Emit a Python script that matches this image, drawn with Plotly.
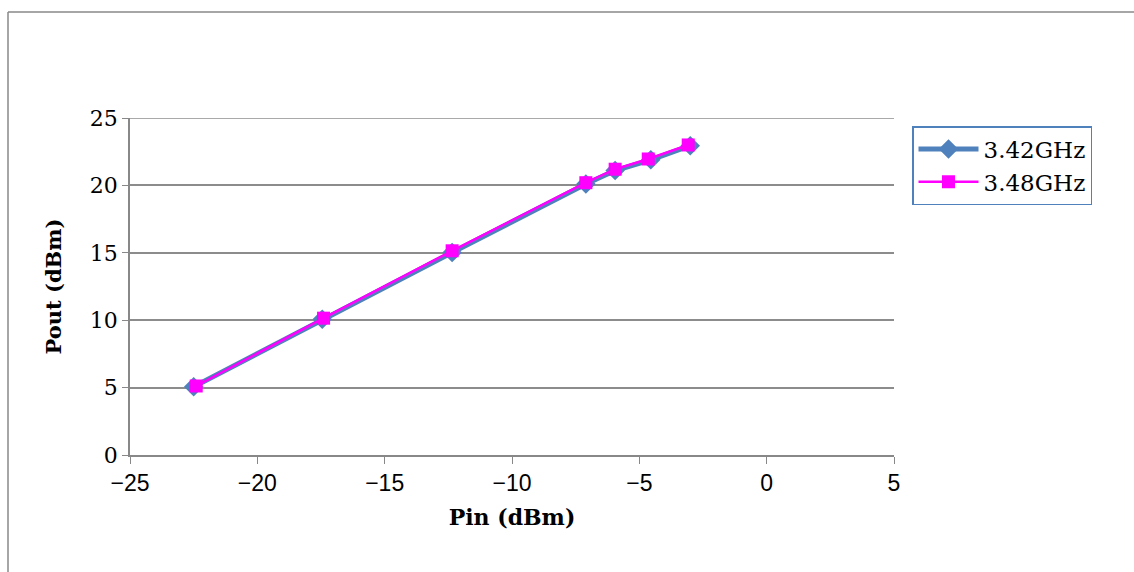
import plotly.graph_objects as go

pin_342 = [-22.5, -17.45, -12.35, -7.1, -5.95, -4.55, -3.0]
pout_342 = [5.07, 10.07, 15.02, 20.1, 21.1, 21.9, 22.95]
pin_348 = [-22.4, -17.4, -12.35, -7.1, -5.95, -4.65, -3.08]
pout_348 = [5.12, 10.15, 15.15, 20.2, 21.2, 21.96, 23.0]

x_ticks = [-25, -20, -15, -10, -5, 0, 5]
x_labels = ["\u221225", "\u221220", "\u221215", "\u221210", "\u22125", "0", "5"]
y_ticks = [0, 5, 10, 15, 20, 25]

SERIF = "Century Schoolbook, DejaVu Serif, Liberation Serif, serif"

fig = go.Figure()
fig.add_trace(go.Scatter(
    x=pin_342, y=pout_342, name="3.42GHz", mode="lines+markers",
    line=dict(color="#4F81BD", width=5),
    marker=dict(symbol="diamond", size=15, color="#4F81BD"),
))
fig.add_trace(go.Scatter(
    x=pin_348, y=pout_348, name="3.48GHz", mode="lines+markers",
    line=dict(color="#FF00FF", width=2.5),
    marker=dict(symbol="square", size=13, color="#FF00FF"),
))

L, R, T, B = 130, 1134 - 894, 118, 572 - 455
pw, ph = 1134 - L - R, 572 - T - B

fig.update_layout(
    width=1134, height=572,
    margin=dict(l=L, r=R, t=T, b=B, autoexpand=False),
    paper_bgcolor="white", plot_bgcolor="white",
    font=dict(family=SERIF, size=18, color="black"),
    showlegend=True,
    legend=dict(
        x=(912 - L) / pw, y=(455 - 126) / ph, xanchor="left", yanchor="top",
        bordercolor="#4F81BD", borderwidth=1.5, bgcolor="white",
        font=dict(family=SERIF, size=23), itemwidth=60,
        tracegroupgap=0,
    ),
    xaxis=dict(
        range=[-25, 5], tickvals=x_ticks, ticktext=x_labels,
        showgrid=False, zeroline=False,
        showline=True, linecolor="#888888", linewidth=1.5,
        ticks="outside", ticklen=7, tickcolor="#888888",
        tickfont=dict(family="Liberation Sans Narrow, Liberation Sans, sans-serif", size=23),
        title=dict(text="<b>Pin (dBm)</b>", font=dict(family=SERIF, size=22), standoff=14),
    ),
    yaxis=dict(
        range=[0, 25], tickvals=y_ticks,
        showgrid=True, gridcolor="#8C8C8C", gridwidth=1.5, zeroline=False,
        showline=True, linecolor="#888888", linewidth=1.5,
        ticks="outside", ticklen=6, tickcolor="#888888",
        tickfont=dict(family=SERIF, size=22),
        title=dict(text="<b>Pout (dBm)</b>", font=dict(family=SERIF, size=21), standoff=22),
    ),
    shapes=[
        dict(type="line", xref="paper", yref="y", layer="below",
             x0=0, x1=1, y0=y_ticks[-1], y1=y_ticks[-1],
             line=dict(color="#8C8C8C", width=1.5)),
        dict(type="line", xref="paper", yref="paper",
             x0=(8 - L) / pw, x1=(1140 - L) / pw, y0=(455 - 12) / ph, y1=(455 - 12) / ph,
             line=dict(color="#888888", width=1.5)),
        dict(type="line", xref="paper", yref="paper",
             x0=(8 - L) / pw, x1=(8 - L) / pw, y0=(455 - 12) / ph, y1=(455 - 580) / ph,
             line=dict(color="#888888", width=1.5)),
    ],
)

fig.write_html("out.html", config={"displayModeBar": False},
               post_script="document.body.style.margin='0';")
